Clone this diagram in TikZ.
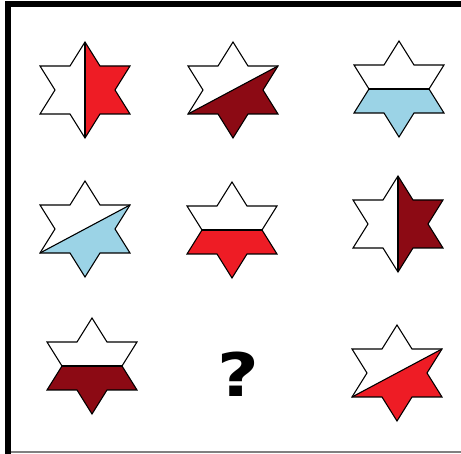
\documentclass[tikz,border=0pt]{standalone}
\usepackage{fontspec}
\usepackage{xcolor}
\usepackage{tikz}
\newfontfamily\qfont{DejaVu Sans}
\definecolor{StarRed}{HTML}{EE1C25}
\definecolor{StarMaroon}{HTML}{8C0A14}
\definecolor{StarBlue}{HTML}{9BD3E6}
\definecolor{FrameGray}{HTML}{808080}
\newcommand{\starline}{(0,-48) -- (15,-24) -- (45,-24) -- (30,0) -- (45,24) -- (15,24) -- (0,48) -- (-15,24) -- (-45,24) -- (-30,0) -- (-45,-24) -- (-15,-24) -- cycle}
\newcommand{\halfright}{(0,-48) -- (15,-24) -- (45,-24) -- (30,0) -- (45,24) -- (15,24) -- (0,48) -- cycle}
\newcommand{\halflow}{(-30,0) -- (30,0) -- (45,24) -- (15,24) -- (0,48) -- (-15,24) -- (-45,24) -- cycle}
\newcommand{\halfdiag}{(45,-24) -- (30,0) -- (45,24) -- (15,24) -- (0,48) -- (-15,24) -- (-45,24) -- cycle}
\tikzset{
  outline/.style={draw=black,line width=1.1pt,line join=miter},
  cut/.style={draw=black,line width=1.1pt}
}

\begin{document}
\begin{tikzpicture}[x=1pt,y=-1pt]
\path[use as bounding box] (0,0) rectangle (461,454);
\fill[white] (0,0) rectangle (461,454);
% frame
\fill[black] (5,1) rectangle (461,7);
\fill[black] (5,1) rectangle (11,454);
\draw[FrameGray,line width=1.2pt] (11,452) -- (461,452);
% row 1
\begin{scope}[shift={(85,90)}]
\fill[StarRed] \halfright;
\draw[cut] (0,-48) -- (0,48);
\draw[outline] \starline;
\end{scope}
\begin{scope}[shift={(233,90)}]
\fill[StarMaroon] \halfdiag;
\draw[cut] (-45,24) -- (45,-24);
\draw[outline] \starline;
\end{scope}
\begin{scope}[shift={(399,89)}]
\fill[StarBlue] \halflow;
\draw[cut] (-30,0) -- (30,0);
\draw[outline] \starline;
\end{scope}
% row 2
\begin{scope}[shift={(85,229)}]
\fill[StarBlue] \halfdiag;
\draw[cut] (-45,24) -- (45,-24);
\draw[outline] \starline;
\end{scope}
\begin{scope}[shift={(232,230)}]
\fill[StarRed] \halflow;
\draw[cut] (-30,0) -- (30,0);
\draw[outline] \starline;
\end{scope}
\begin{scope}[shift={(398,224)}]
\fill[StarMaroon] \halfright;
\draw[cut] (0,-48) -- (0,48);
\draw[outline] \starline;
\end{scope}
% row 3
\begin{scope}[shift={(92,366)}]
\fill[StarMaroon] \halflow;
\draw[cut] (-30,0) -- (30,0);
\draw[outline] \starline;
\end{scope}
\node[font=\qfont\bfseries\fontsize{60}{60}\selectfont,inner sep=0pt,xscale=1.2] (qmark) at (238,374) {?};
\begin{scope}[shift={(397,373)}]
\fill[StarRed] \halfdiag;
\draw[cut] (-45,24) -- (45,-24);
\draw[outline] \starline;
\end{scope}
\end{tikzpicture}
\end{document}
